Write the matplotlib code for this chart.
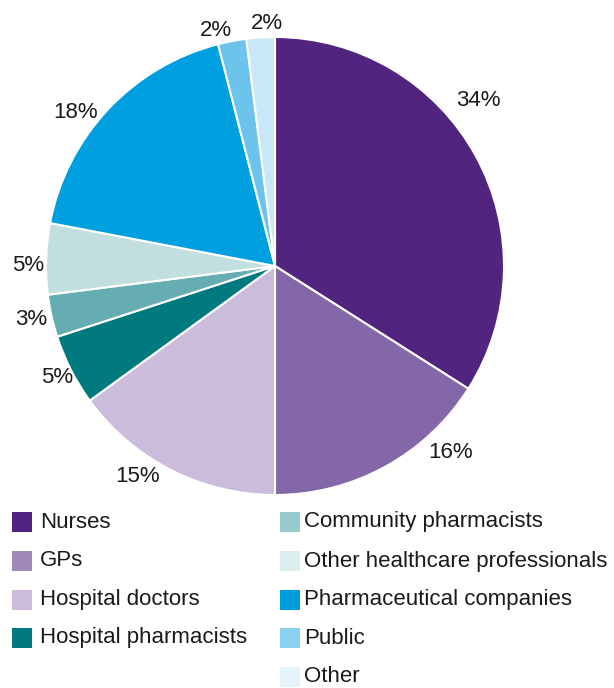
import matplotlib

matplotlib.use("Agg")
import matplotlib.pyplot as plt
import numpy as np
from matplotlib.patches import Rectangle

plt.rcParams["font.family"] = ["Liberation Sans", "DejaVu Sans"]

categories = [
    "Nurses",
    "GPs",
    "Hospital doctors",
    "Hospital pharmacists",
    "Community pharmacists",
    "Other healthcare professionals",
    "Pharmaceutical companies",
    "Public",
    "Other",
]
shares = [34, 16, 15, 5, 3, 5, 18, 2, 2]
labels = ["34%", "16%", "15%", "5%", "3%", "5%", "18%", "2%", "2%"]

# wedge colours and the (lighter) legend swatch colours
pie_colors = ["#512480", "#8467a8", "#cbbcdb", "#007a7f", "#66adb3",
              "#c2dfe0", "#009fe0", "#6cc4ec", "#c8e7f7"]
legend_colors = ["#522481", "#a08ab9", "#cbbcdb", "#007a7f", "#9acbcc",
                 "#dcedee", "#009ddc", "#8ad0f0", "#e5f3fb"]

# label placement (angle in degrees, distance in radii) - hand tuned
label_angle = [39, -46.6, 236.8, 207, 192.3, 179.8, 142.4, 104, 92]
label_dist = [1.145, 1.118, 1.10, 1.07, 1.09, 1.08, 1.10, 1.06, 1.06]

fig = plt.figure(figsize=(6.14, 6.88), dpi=100)
W, H = 614, 688
cx, cy, r = 275, 266, 229
ax = fig.add_axes([(cx - r) / W, (H - cy - r) / H, 2 * r / W, 2 * r / H])
ax.pie(shares, colors=pie_colors, startangle=90, counterclock=False,
       radius=1, wedgeprops=dict(edgecolor="white", linewidth=1.5))
ax.set_xlim(-1, 1)
ax.set_ylim(-1, 1)
ax.set_aspect("equal")
ax.axis("off")

for lab, a, d in zip(labels, label_angle, label_dist):
    t = np.deg2rad(a)
    ax.text(d * np.cos(t), d * np.sin(t), lab, ha="center", va="center",
            fontsize=16, color="#1a1a1a", clip_on=False)

# legend: 4 entries in the first column, 5 in the second
rows_y = [522, 561, 600, 638, 677]
cols = [(12, 40), (280, 304)]
box = 20
for i, (name, col) in enumerate(zip(categories, legend_colors)):
    c = 0 if i < 4 else 1
    row = i if i < 4 else i - 4
    bx, tx = cols[c]
    y = rows_y[row]
    fig.patches.append(Rectangle((bx / W, (H - y - box / 2) / H), box / W, box / H,
                                 transform=fig.transFigure, facecolor=col,
                                 edgecolor="none"))
    fig.text(tx / W, (H - y) / H, name, ha="left", va="center",
             fontsize=16, color="#1a1a1a")

fig.savefig("out.png", dpi=100)
